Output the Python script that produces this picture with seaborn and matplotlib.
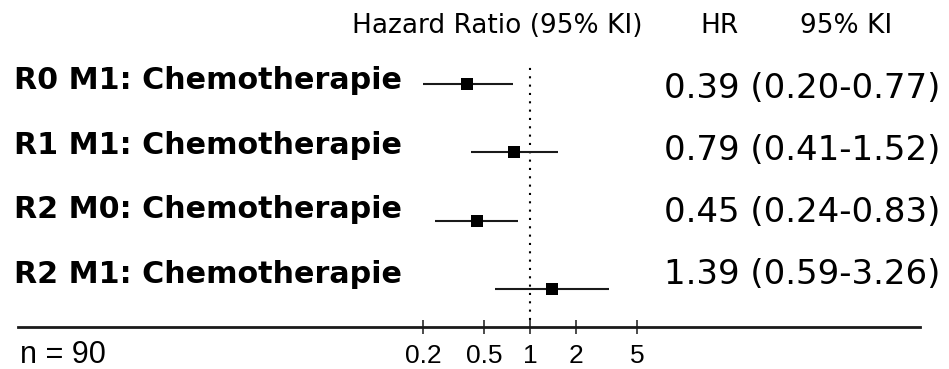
import numpy as np
import pandas as pd
import matplotlib
matplotlib.use("Agg")
import matplotlib.pyplot as plt
from matplotlib.ticker import NullLocator
import seaborn as sns

# ------------------------------
# data
# ------------------------------
groups = ["R0 M1: Chemotherapie", "R1 M1: Chemotherapie",
          "R2 M0: Chemotherapie", "R2 M1: Chemotherapie"]
hr = [0.39, 0.79, 0.45, 1.39]
ci_low = [0.20, 0.41, 0.24, 0.59]
ci_high = [0.77, 1.52, 0.83, 3.26]
tick_values = [0.2, 0.5, 1, 2, 5]
tick_labels = ["0.2", "0.5", "1", "2", "5"]
n_total = 90

df = pd.DataFrame({"group": groups, "hr": hr, "lo": ci_low, "hi": ci_high})
df["row"] = np.arange(len(df))

# ------------------------------
# figure / axes
# ------------------------------
sns.set_theme(style="white")
plt.rcParams["font.family"] = ["DejaVu Sans"]

W, H = 949, 369
fig = plt.figure(figsize=(W / 100, H / 100), dpi=100)
fig.patch.set_facecolor("white")
ax = fig.add_axes([0, 42 / H, 1, 327 / H])
ax.set_facecolor("none")

# confidence intervals + point estimates
ax.hlines(df["row"], df["lo"], df["hi"], color="#1a1a1a", lw=1.5, zorder=2)
sns.scatterplot(data=df, x="hr", y="row", marker="s", s=64, color="black",
                linewidth=0, ax=ax, zorder=3, legend=False)

# reference line at HR = 1
ax.axvline(1, ymin=7 / 327, ymax=(327 - 63) / 327, color="black", lw=1.5,
           linestyle=(0, (1, 3)), zorder=1)

# log x scale: 1 sits at pixel 530, ~153 px per decade
px_dec = 153
ax.set_xscale("log")
ax.set_xlim(10 ** (-530 / px_dec), 10 ** ((W - 530) / px_dec))
row_gap = 68.3
ax.set_ylim((327 - 84) / row_gap, -84 / row_gap)

ax.set_xlabel("")
ax.set_ylabel("")
ax.set_yticks([])
ax.set_xticks(tick_values)
ax.set_xticklabels(tick_labels, fontfamily="Liberation Sans", fontsize=19)
ax.xaxis.set_minor_locator(NullLocator())
ax.tick_params(axis="x", bottom=True, direction="inout", length=10, width=1.1,
               color="#1a1a1a", pad=7, labelcolor="black")

sns.despine(ax=ax, left=True)
ax.spines["bottom"].set_color("#1a1a1a")
ax.spines["bottom"].set_linewidth(2)
ax.spines["bottom"].set_bounds(10 ** ((18 - 530) / px_dec), 10 ** ((920 - 530) / px_dec))


# ------------------------------
# text columns
# ------------------------------
def put(x, y, s, **kw):
    fig.text(x / W, 1 - y / H, s, va="baseline", color="black", **kw)


put(352, 33, "Hazard Ratio (95% KI)", fontsize=19)
put(700, 33, "HR", fontsize=19)
put(800, 33, "95% KI", fontsize=19)

for i, r in df.iterrows():
    put(14, 89 + 64.7 * i, r["group"], fontsize=21.7, fontweight="bold")
    put(664, 98 + 62 * i, f"{r['hr']:.2f} ({r['lo']:.2f}-{r['hi']:.2f})",
        fontsize=24.5)

put(20, 363, f"n = {n_total}", fontsize=22, family="Liberation Sans")

plt.savefig("out.png", dpi=100)
plt.close()
